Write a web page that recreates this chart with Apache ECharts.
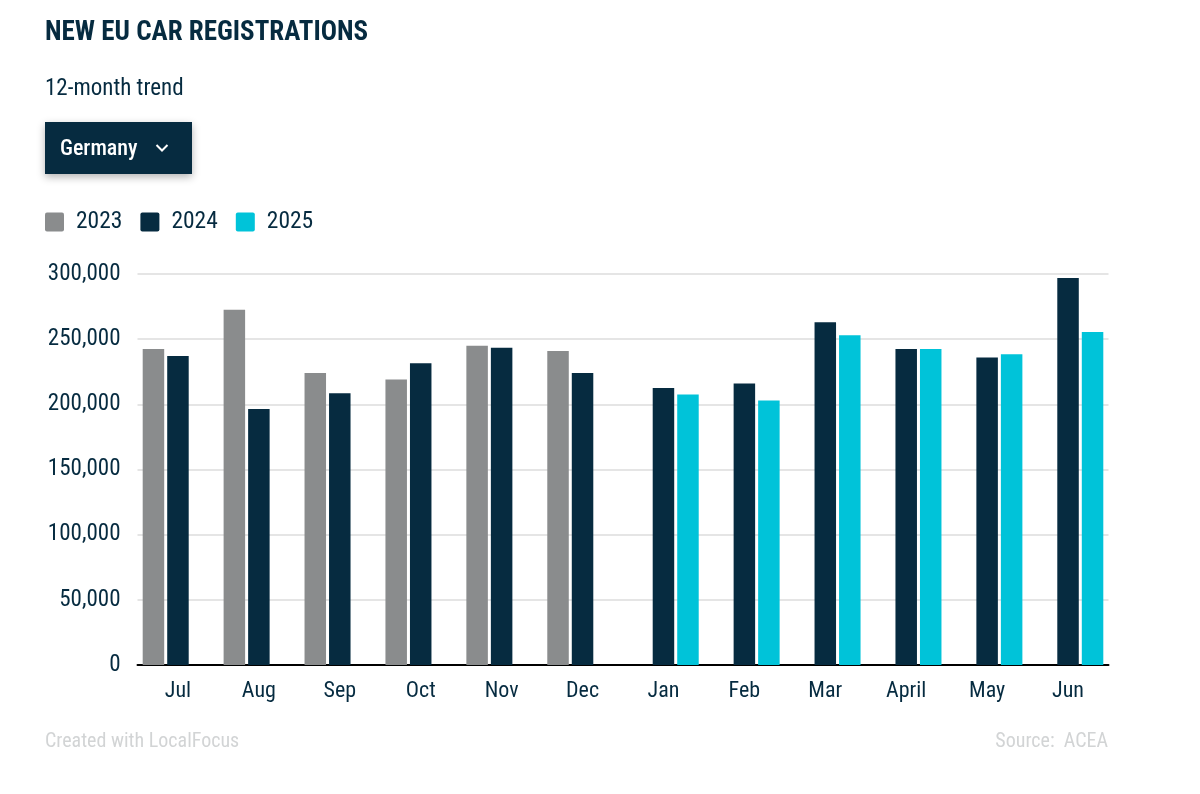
<!DOCTYPE html>
<html>
<head>
<meta charset="utf-8">
<script src="https://cdn.jsdelivr.net/npm/echarts@6/dist/echarts.min.js"></script>
<style>
  html, body { margin: 0; padding: 0; background: #ffffff; }
  #chart { width: 1200px; height: 794px; }
</style>
</head>
<body>
<div id="chart"></div>
<script>
const categories = ['Jul', 'Aug', 'Sep', 'Oct', 'Nov', 'Dec', 'Jan', 'Feb', 'Mar', 'April', 'May', 'Jun'];
const values2023 = [242500, 272500, 224000, 219000, 245000, 241000, null, null, null, null, null, null];
const values2024 = [237000, 196500, 208500, 231500, 243500, 224000, 212500, 216000, 263000, 242500, 236000, 297000];
const values2025 = [null, null, null, null, null, null, 207500, 203000, 253000, 242500, 238500, 255500];
const yTicks = [0, 50000, 100000, 150000, 200000, 250000, 300000];

const FONT = '"Roboto Condensed", "Liberation Sans Narrow", Roboto, sans-serif';
const DARK = '#062b40';
const GREY = '#8a8c8d';
const CYAN = '#00c3d9';

const chart = echarts.init(document.getElementById('chart'));
const barStyle = { barWidth: 21.5, barGap: '14%' };

chart.setOption({
  animation: false,
  textStyle: { fontFamily: FONT },
  title: [
    { text: 'NEW EU CAR REGISTRATIONS', left: 45, top: 20, padding: 0,
      textStyle: { fontFamily: FONT, fontSize: 27, fontWeight: 'bold', color: DARK } },
    { text: '12-month trend', left: 45, top: 78, padding: 0,
      textStyle: { fontFamily: FONT, fontSize: 23, fontWeight: 'normal', color: DARK } }
  ],
  graphic: [
    { type: 'rect', shape: { x: 45, y: 122, width: 147, height: 52 },
      style: { fill: DARK, shadowBlur: 8, shadowColor: 'rgba(0,0,0,0.3)', shadowOffsetY: 3 } },
    { type: 'text', left: 60, top: 138,
      style: { text: 'Germany', fill: '#ffffff', font: '500 22px ' + FONT } },
    { type: 'polyline', shape: { points: [[156.5, 145], [162, 150.5], [167.5, 145]] },
      style: { stroke: '#ffffff', lineWidth: 2, fill: null } },
    { type: 'text', left: 45, top: 732,
      style: { text: 'Created with LocalFocus', fill: '#d2d4d5', font: '20px ' + FONT } },
    { type: 'text', right: 92, top: 732,
      style: { text: 'Source:  ACEA', fill: '#d2d4d5', font: '20px ' + FONT } }
  ],
  legend: {
    left: 45, top: 210, padding: 0, itemWidth: 19, itemHeight: 19, itemGap: 18,
    icon: 'path://M2,0 L17,0 Q19,0 19,2 L19,17 Q19,19 17,19 L2,19 Q0,19 0,17 L0,2 Q0,0 2,0 Z',
    textStyle: { fontFamily: FONT, fontSize: 23.5, color: DARK, padding: [0, 0, 0, 7] },
    data: ['2023', '2024', '2025']
  },
  grid: { left: 137.5, right: 91.5, top: 274, bottom: 129, containLabel: false },
  xAxis: {
    type: 'category', data: categories,
    axisLine: { lineStyle: { color: '#000000', width: 2 } },
    axisTick: { show: false },
    axisLabel: { fontFamily: FONT, fontSize: 22, color: DARK, margin: 15 }
  },
  yAxis: {
    type: 'value', min: 0, max: 300000, interval: 50000,
    axisLine: { show: false }, axisTick: { show: false },
    splitLine: { lineStyle: { color: '#dcdcdc', width: 1.5 } },
    axisLabel: { fontFamily: FONT, fontSize: 23, color: DARK, margin: 17,
      formatter: v => yTicks.includes(v) ? v.toLocaleString('en-US') : '' }
  },
  series: [
    Object.assign({ name: '2023', type: 'bar', data: values2023, itemStyle: { color: GREY } }, barStyle),
    Object.assign({ name: '2024', type: 'bar', data: values2024, itemStyle: { color: DARK } }, barStyle),
    Object.assign({ name: '2025', type: 'bar', data: values2025, itemStyle: { color: CYAN } }, barStyle)
  ]
});
</script>
</body>
</html>
